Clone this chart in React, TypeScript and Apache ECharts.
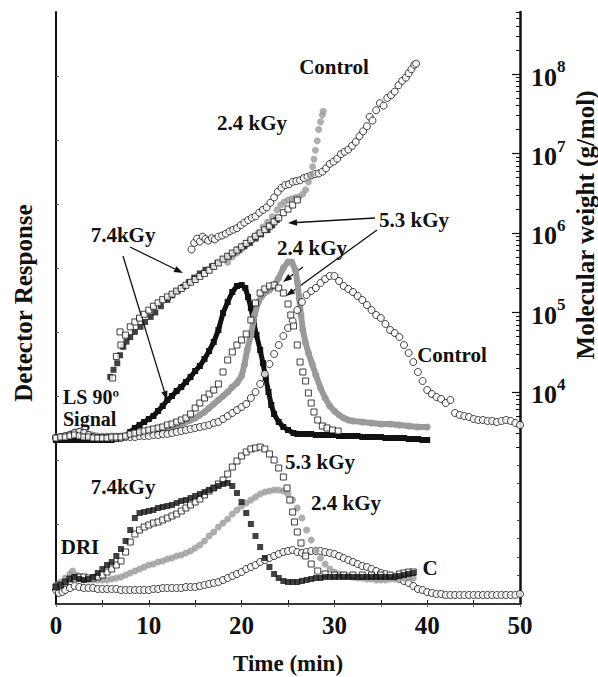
import React, { useEffect, useRef } from 'react';
import * as echarts from 'echarts';

// ---------- data (time in min, detector response in a.u., molecular weight in g/mol) ----------
const lsControl: number[][] = [
  [0,166],[0.5,167],[1,168],[1.5,169],[2,171],[2.5,172],[3,171],[3.5,169],[4,167],[4.5,166],[5,166],[5.5,166],[6,166],[6.5,166],[7,166],[7.5,167],[8,167],[8.5,167],[9,168],[9.5,168],[10,168],[10.5,169],[11,169],[11.5,170],[12,170],[12.5,171],[13,172],[13.5,173],[14,174],[14.5,175],[15,176],[15.5,177],[16,178],[16.5,179],[17,181],[17.5,182],[18,185],[18.5,188],[19,191],[19.5,194],[20,197],[20.5,200],[21,206],[21.5,212],[22,220],[22.5,230],[23,240],[23.5,250],[24,259],[24.5,268],[25,276],[25.5,283],[26,294],[26.5,302],[27,309],[27.5,313],[28,316],[28.5,321],[29,325],[29.5,328],[30,328],[30.5,323],[31,318],[31.5,315],[32,312],[32.5,308],[33,304],[33.5,299],[34,294],[34.5,289],[35,286],[35.5,280],[36,274],[36.5,271],[37,267],[37.5,259],[38,251],[38.5,242],[39,232],[39.5,223],[40,214],[40.5,210],[41,207],[41.5,205],[42,201],[42.5,204],[43,191],[43.5,189],[44,188],[44.5,187],[45,185],[45.5,184],[46,184],[46.5,183],[47,183],[47.5,182],[48,183],[48.5,184],[49,183],[49.5,181],[50,179]
];
const ls53: number[][] = [
  [0,166],[0.5,167],[1,167],[1.5,168],[2,169],[2.5,168],[3,167],[3.5,167],[4,166],[4.5,166],[5,166],[5.5,166],[6,167],[6.5,167],[7,167],[7.5,168],[8,170],[8.5,171],[9,172],[9.5,173],[10,174],[10.5,175],[11,176],[11.5,177],[12,179],[12.5,180],[13,182],[13.5,184],[14,186],[14.5,190],[15,196],[15.5,201],[16,206],[16.5,210],[17,214],[17.5,220],[18,232],[18.5,244],[19,252],[19.5,259],[20,264],[20.5,270],[21,284],[21.5,301],[22,311],[22.5,315],[23,318],[23.5,319],[24,316],[24.5,311],[25,300],[25.3,289],[25.6,278],[26,259],[26.3,242],[26.6,232],[26.9,223],[27.2,211],[27.5,201],[27.8,192],[28.2,184],[28.7,178],[29.2,176],[29.8,174],[30.4,173]
];
const ls74: number[][] = [
  [0,164],[0.5,164],[1,164],[1.5,164],[2,164],[2.5,164],[3,164],[3.5,164],[4,164],[4.5,164],[5,164],[5.5,164],[6,164],[6.5,165],[7,166],[7.5,168],[8,172],[8.5,176],[9,179],[9.5,182],[10,185],[10.5,188],[11,193],[11.5,198],[12,204],[12.5,208],[13,213],[13.5,217],[14,222],[14.5,227],[15,233],[15.5,238],[16,245],[16.5,253],[17,262],[17.5,274],[18,291],[18.5,302],[19,312],[19.5,318],[20,319],[20.4,316],[20.7,307],[21,296],[21.3,282],[21.6,269],[22,254],[22.3,241],[22.6,226],[22.9,212],[23.2,199],[23.5,190],[24,182],[24.5,177],[25,174],[25.6,171],[26,170],[26.5,170],[27,170],[27.5,170],[28,169],[28.5,169],[29,169],[29.5,169],[30,169],[30.5,168],[31,168],[31.5,168],[32,168],[32.5,168],[33,167],[33.5,167],[34,167],[34.5,167],[35,167],[35.5,166],[36,166],[36.5,166],[37,166],[37.5,166],[38,165],[38.5,165],[39,165],[39.5,164],[40,164]
];
const ls24: number[][] = [
  [0,167],[0.5,167],[1,168],[1.5,170],[2,172],[2.5,173],[3,172],[3.5,170],[4,169],[4.5,168],[5,168],[5.5,168],[6,168],[6.5,168],[7,168],[7.5,168],[8,169],[8.5,169],[9,170],[9.5,170],[10,171],[10.5,172],[11,173],[11.5,174],[12,175],[12.5,176],[13,178],[13.5,180],[14,182],[14.5,184],[15,186],[15.5,189],[16,192],[16.5,196],[17,200],[17.5,204],[18,208],[18.5,212],[19,217],[19.5,221],[20,228],[20.3,239],[20.6,254],[21,269],[21.4,289],[21.8,302],[22.2,308],[22.6,312],[23,314],[23.5,318],[24,326],[24.5,336],[25,342],[25.4,342],[25.8,334],[26,322],[26.2,306],[26.4,289],[26.6,274],[26.9,261],[27.2,251],[27.6,240],[28,229],[28.5,216],[29,206],[29.5,198],[30,193],[30.5,189],[31,186],[31.5,184],[32,183],[33,182],[34,181],[35,180],[36,180],[37,179],[38,178],[39,177],[40,177]
];

const driControl: number[][] = [
  [0,14],[0.3,11],[0.7,12],[1,14],[1.5,16],[2,18],[2.5,17],[3,16],[3.5,16],[4,16],[4.5,15],[5,15],[5.5,15],[6,15],[6.5,15],[7,14],[7.5,14],[8,14],[8.5,14],[9,14],[9.5,14],[10,14],[10.5,15],[11,15],[11.5,16],[12,16],[12.5,16],[13,16],[13.5,16],[14,17],[14.5,17],[15,17],[15.5,18],[16,19],[16.5,20],[17,21],[17.5,22],[18,24],[18.5,26],[19,28],[19.5,30],[20,32],[20.5,35],[21,37],[21.5,39],[22,42],[22.5,44],[23,46],[23.5,48],[24,50],[24.5,52],[25,53],[25.5,54],[26,52],[26.5,51],[27,52],[27.5,53],[28,53],[28.5,53],[29,52],[29.5,51],[30,50],[30.5,48],[31,46],[31.5,44],[32,42],[32.5,40],[33,38],[33.5,37],[34,35],[34.5,33],[35,31],[35.5,30],[36,28],[36.5,27],[37,25],[37.5,23],[38,21],[38.5,18],[39,15],[39.5,14],[40,12],[40.5,11],[41,10],[41.5,10],[42,9],[42.5,9],[43,9],[43.5,9],[44,9],[44.5,9],[45,9],[45.5,9],[46,9],[46.5,9],[47,9],[47.5,9],[48,9],[48.5,9],[49,9],[49.5,9],[50,10]
];
const dri53: number[][] = [
  [0,17],[0.5,19],[1,22],[1.5,25],[2,26],[2.5,27],[3,27],[3.5,26],[4,26],[4.5,27],[5,29],[5.5,32],[6,35],[6.5,39],[7,43],[7.5,52],[8,62],[8.5,70],[9,74],[9.5,77],[10,79],[10.5,81],[11,82],[11.5,84],[12,86],[12.5,88],[13,90],[13.5,93],[14,96],[14.5,99],[15,102],[15.5,105],[16,109],[16.5,113],[17,116],[17.5,120],[18,124],[18.5,130],[19,137],[19.5,143],[20,148],[20.5,152],[21,155],[21.5,156],[22,157],[22.5,155],[23,150],[23.5,144],[24,136],[24.5,127],[24.9,116],[25.2,104],[25.5,92],[25.7,82],[26,72],[26.4,61],[26.9,48],[27.5,40],[28.2,33],[29,30],[30,29],[31,29],[32,29],[33,29],[34,29],[35,29],[36,29],[37,30],[37.5,31],[38,32],[38.5,32]
];
const dri74: number[][] = [
  [0,17],[0.5,19],[1,22],[1.5,25],[2,27],[2.5,25],[3,24],[3.5,25],[4,27],[4.5,31],[5,35],[5.5,39],[6,42],[6.5,48],[7,55],[7.5,63],[8,74],[8.5,86],[9,91],[9.5,92],[10,93],[10.5,94],[11,96],[11.5,97],[12,98],[12.5,99],[13,101],[13.5,103],[14,104],[14.5,106],[15,108],[15.5,110],[16,112],[16.5,114],[17,116],[17.5,118],[18,120],[18.5,121],[19,118],[19.5,111],[20,102],[20.5,91],[21,80],[21.5,68],[22,57],[22.5,46],[23,37],[23.5,30],[24,26],[24.5,23],[25,22],[25.5,22],[26,22],[26.5,23],[27,24],[27.5,25],[28,26],[28.5,26],[29,27],[29.5,27],[30,27],[30.5,27],[31,27],[31.5,27],[32,27],[32.5,27],[33,27],[33.5,27],[34,27],[34.5,27],[35,27],[35.5,27],[36,27],[36.5,27],[37,28],[37.5,29],[38,30],[38.5,31]
];
const dri24: number[][] = [
  [0,19],[0.5,22],[1,26],[1.5,30],[1.8,33],[2.2,29],[2.5,26],[3,24],[3.5,24],[4,24],[4.5,24],[5,24],[5.5,24],[6,25],[6.5,26],[7,27],[7.5,29],[8,31],[8.5,33],[9,35],[9.5,37],[10,39],[10.5,40],[11,42],[11.5,43],[12,45],[12.5,46],[13,48],[13.5,49],[14,51],[14.5,53],[15,56],[15.5,59],[16,63],[16.5,68],[17,72],[17.5,77],[18,81],[18.5,85],[19,90],[19.5,94],[20,98],[20.5,101],[21,104],[21.5,107],[22,110],[22.5,112],[23,113],[23.5,114],[24,114],[24.5,113],[25,110],[25.5,104],[26,96],[26.5,86],[27,74],[27.5,64],[28,54],[28.5,46],[29,40],[29.5,35],[30,32],[30.5,30],[31,29],[31.5,28],[32,27],[32.5,26],[33,26],[33.5,25],[34,25],[34.5,24],[35,24],[35.5,24],[36,25],[36.5,25],[37,26],[37.5,26],[38,26],[38.5,26]
];

const mwControl: number[][] = [
  [14.6,6.2e5],[14.9,7.5e5],[15.2,8.5e5],[15.5,7.8e5],[15.8,9.0e5],[16.1,8.4e5],[16.4,8.0e5],[16.8,8.6e5],[17.1,8.3e5],[17.5,9.0e5],[17.9,9.3e5],[18.3,9.8e5],[18.7,1.05e6],[19.1,1.1e6],[19.5,1.15e6],[19.9,1.25e6],[20.3,1.35e6],[20.7,1.45e6],[21.1,1.55e6],[21.5,1.62e6],[21.9,1.8e6],[22.3,1.95e6],[22.7,2.1e6],[23.1,2.4e6],[23.5,2.8e6],[23.9,3.3e6],[24.3,3.7e6],[24.7,4.0e6],[25.1,4.1e6],[25.5,4.4e6],[25.9,4.5e6],[26.3,4.6e6],[26.7,4.9e6],[27.1,5.1e6],[27.5,5.3e6],[27.9,5.5e6],[28.3,5.6e6],[28.7,5.9e6],[29.1,6.5e6],[29.5,7.4e6],[29.9,7.9e6],[30.3,8.6e6],[30.7,9.8e6],[31.1,1.05e7],[31.5,1.12e7],[31.9,1.25e7],[32.3,1.4e7],[32.7,1.65e7],[33.1,1.9e7],[33.5,2.2e7],[33.8,2.9e7],[34.1,2.6e7],[34.5,3.5e7],[34.9,4.3e7],[35.3,4.0e7],[35.7,5.0e7],[36.1,5.4e7],[36.5,6.0e7],[36.9,7.2e7],[37.3,8.2e7],[37.7,9.0e7],[38.0,1.02e8],[38.3,1.15e8],[38.6,1.3e8],[38.8,1.35e8]
];
const mw53: number[][] = [
  [6.1,1.5e4],[6.5,2.8e4],[6.9,5.7e4],[7.0,3.9e4],[7.5,5.2e4],[8,6.6e4],[8.5,7.6e4],[9,8.5e4],[9.5,9.5e4],[10,1.07e5],[10.5,1.2e5],[11,1.32e5],[11.5,1.45e5],[12,1.57e5],[12.5,1.7e5],[13,1.86e5],[13.5,2.0e5],[14,2.2e5],[14.5,2.4e5],[15,2.6e5],[15.5,2.85e5],[16,3.1e5],[16.5,3.4e5],[17,3.8e5],[17.5,4.2e5],[18,4.7e5],[18.5,5.1e5],[19,5.6e5],[19.5,6.1e5],[20,6.7e5],[20.5,7.4e5],[21,8.2e5],[21.5,9.1e5],[22,1.0e6],[22.5,1.1e6],[23,1.22e6],[23.5,1.38e6],[24,1.55e6],[24.5,1.8e6],[25,2.0e6],[25.5,2.25e6],[26,2.6e6]
];
const mw74: number[][] = [
  [5.85,1.55e4],[6.2,1.9e4],[6.6,2.3e4],[6.9,2.9e4],[7.25,3.7e4],[7.6,4.3e4],[8.0,4.9e4],[8.5,5.7e4],[9.1,6.6e4],[9.6,7.6e4],[10.2,8.8e4],[10.7,1.0e5],[11.3,1.2e5],[12.0,1.44e5],[12.5,1.64e5],[13.1,1.86e5],[13.7,2.1e5],[14.3,2.4e5],[14.9,2.75e5],[15.5,3.1e5],[16.1,3.45e5],[16.8,3.8e5],[17.4,4.2e5],[18.0,4.7e5],[18.6,5.1e5],[19.1,5.6e5],[19.7,6.2e5],[20.3,6.8e5],[20.9,7.5e5],[21.5,8.5e5],[22.1,9.6e5],[22.8,1.09e6],[23.3,1.25e6],[23.8,1.46e6]
];
const mw24: number[][] = [
  [18.5,4.3e5],[19.0,5.0e5],[19.5,5.6e5],[19.9,6.1e5],[20.4,7.0e5],[20.9,8.0e5],[21.3,8.9e5],[21.8,1.0e6],[22.3,1.2e6],[22.8,1.37e6],[23.3,1.6e6],[23.8,1.95e6],[24.2,2.25e6],[24.6,2.45e6],[25.0,2.6e6],[25.4,2.7e6],[25.8,2.8e6],[26.2,2.85e6],[26.6,3.1e6],[26.9,3.5e6],[27.2,4.4e6],[27.45,5.4e6],[27.65,6.8e6],[27.8,8.5e6],[27.95,1.1e7],[28.15,1.45e7],[28.3,2.0e7],[28.5,2.5e7],[28.7,3.05e7],[28.8,3.4e7]
];

// axis ticks / labels
const timeLabels = [0, 10, 20, 30, 40, 50];
const responseTicks = [16, 80, 144, 208, 272, 336, 400, 464, 528];
const mwExponents = [4, 5, 6, 7, 8];
const mwMinorDecades = [3, 4, 5, 6, 7, 8];
const mwMinorMultipliers = [2, 3, 4, 5, 6, 7, 8, 9];
const driRightTicks = [11, 29, 47, 66, 84, 102, 121, 139];

const LOG_MIN = 1.333;
const LOG_MAX = 8.78;
const RESP_MAX = 592;

const GRAY = '#9a9a9a';
const INK = '#111';
const FONT = '"Liberation Serif", "Times New Roman", serif';

function arrow(x1: number, y1: number, x2: number, y2: number) {
  const a = Math.atan2(y2 - y1, x2 - x1);
  const L = 9, W = 3.2;
  const bx = x2 - L * Math.cos(a), by = y2 - L * Math.sin(a);
  const px = -Math.sin(a) * W, py = Math.cos(a) * W;
  return [
    { type: 'line', shape: { x1, y1, x2: bx, y2: by }, style: { stroke: INK, lineWidth: 1.3 }, silent: true },
    { type: 'polygon', shape: { points: [[x2, y2], [bx + px, by + py], [bx - px, by - py]] }, style: { fill: INK }, silent: true },
  ];
}

function label(text: string, x: number, y: number, size = 21, align = 'center') {
  return {
    type: 'text', x, y, silent: true,
    style: { text, fontSize: size, fontWeight: 'bold', fontFamily: FONT, fill: INK, align, verticalAlign: 'middle' },
  };
}

const openCircle = { color: '#fff', borderColor: INK, borderWidth: 1 };
const openSquare = { color: '#fff', borderColor: INK, borderWidth: 1 };

export default function App() {
  const ref = useRef<HTMLDivElement>(null);
  useEffect(() => {
    if (!ref.current) return;
    const chart = echarts.init(ref.current, undefined, { renderer: 'svg' });
    const minorTicks = mwMinorDecades
      .flatMap((d) => mwMinorMultipliers.map((m) => d + Math.log10(m)))
      .filter((v) => v <= LOG_MAX);

    const option: any = {
      animation: false,
      backgroundColor: '#fff',
      grid: { left: 56, right: 78, top: 12, bottom: 73, containLabel: false, outerBoundsMode: 'none' },
      xAxis: [
        {
          type: 'value', min: 0, max: 50, interval: 5, position: 'bottom',
          axisLine: { show: true, lineStyle: { color: INK, width: 2 } },
          axisTick: { show: true, inside: true, length: 4, lineStyle: { color: INK, width: 1 } },
          axisLabel: {
            formatter: (v: number) => (timeLabels.includes(v) ? String(v) : ''),
            fontSize: 25, fontWeight: 'bold', fontFamily: FONT, color: INK, margin: 9,
          },
          splitLine: { show: false },
        },
        {
          type: 'value', min: 0, max: 50, interval: 5, position: 'top',
          axisLine: { show: true, lineStyle: { color: '#444', width: 1.5 } },
          axisTick: { show: true, inside: true, length: 3, lineStyle: { color: '#666', width: 1 } },
          axisLabel: { show: false },
          splitLine: { show: false },
        },
      ],
      yAxis: [
        {
          type: 'value', min: 0, max: RESP_MAX, position: 'left',
          axisLine: { show: true, lineStyle: { color: INK, width: 2 } },
          axisTick: { show: true, inside: true, length: 3, customValues: responseTicks, lineStyle: { color: '#555', width: 1 } },
          axisLabel: { show: false },
          splitLine: { show: false },
        },
        {
          type: 'log', min: Math.pow(10, LOG_MIN), max: Math.pow(10, LOG_MAX), position: 'right', show: false,
        },
        {
          type: 'value', min: LOG_MIN, max: LOG_MAX, position: 'right',
          axisLine: { show: true, lineStyle: { color: INK, width: 2.5 } },
          axisTick: { show: true, inside: true, length: 8, customValues: mwExponents, lineStyle: { color: INK, width: 1.2 } },
          axisLabel: {
            customValues: mwExponents, margin: 11,
            formatter: (v: number) => `{b|10}{s|${Math.round(v)}}`,
            rich: {
              b: { fontSize: 26, fontWeight: 'bold', fontFamily: FONT, color: INK, lineHeight: 32, verticalAlign: 'bottom' },
              s: { fontSize: 17, fontWeight: 'bold', fontFamily: FONT, color: INK, verticalAlign: 'top' },
            },
          },
          splitLine: { show: false },
        },
        {
          type: 'value', min: LOG_MIN, max: LOG_MAX, position: 'right',
          axisLine: { show: false },
          axisTick: { show: true, inside: true, length: 4, customValues: minorTicks, lineStyle: { color: INK, width: 1 } },
          axisLabel: { show: false },
          splitLine: { show: false },
        },
        {
          type: 'value', min: 0, max: RESP_MAX, position: 'right',
          axisLine: { show: false },
          axisTick: { show: true, inside: true, length: 3, customValues: driRightTicks, lineStyle: { color: '#444', width: 1 } },
          axisLabel: { show: false },
          splitLine: { show: false },
        },
      ],
      series: [
        // LS 90° signal
        { type: 'line', data: ls74, yAxisIndex: 0, symbol: 'rect', symbolSize: 6, showSymbol: true,
          lineStyle: { color: INK, width: 5 }, itemStyle: { color: INK }, z: 2 },
        { type: 'line', data: ls24, yAxisIndex: 0, symbol: 'circle', symbolSize: 7, showSymbol: true,
          lineStyle: { color: GRAY, width: 6 }, itemStyle: { color: GRAY }, z: 3 },
        { type: 'scatter', data: lsControl, yAxisIndex: 0, symbol: 'circle', symbolSize: 7, itemStyle: openCircle, z: 4 },
        { type: 'scatter', data: ls53, yAxisIndex: 0, symbol: 'rect', symbolSize: 6, itemStyle: openSquare, z: 5 },
        // DRI
        { type: 'scatter', data: driControl, yAxisIndex: 0, symbol: 'circle', symbolSize: 7, itemStyle: openCircle, z: 2 },
        { type: 'scatter', data: dri24, yAxisIndex: 0, symbol: 'circle', symbolSize: 7, itemStyle: { color: GRAY }, z: 3 },
        { type: 'scatter', data: dri53, yAxisIndex: 0, symbol: 'rect', symbolSize: 6, itemStyle: openSquare, z: 4 },
        { type: 'scatter', data: dri74, yAxisIndex: 0, symbol: 'rect', symbolSize: 6, itemStyle: { color: INK }, z: 5 },
        // Molecular weight
        { type: 'scatter', data: mwControl, yAxisIndex: 1, symbol: 'circle', symbolSize: 7, itemStyle: openCircle, z: 2 },
        { type: 'scatter', data: mw24, yAxisIndex: 1, symbol: 'circle', symbolSize: 7, itemStyle: { color: GRAY }, z: 3 },
        { type: 'scatter', data: mw74, yAxisIndex: 1, symbol: 'rect', symbolSize: 6, itemStyle: { color: INK }, z: 4 },
        { type: 'scatter', data: mw53, yAxisIndex: 1, symbol: 'rect', symbolSize: 6, itemStyle: openSquare, z: 5 },
      ],
      graphic: [
        label('Control', 334, 67),
        label('2.4 kGy', 252, 123),
        label('7.4kGy', 123, 235),
        label('5.3 kGy', 414, 220),
        label('2.4 kGy', 312, 248),
        label('LS 90º', 63, 397, 20, 'left'),
        label('Signal', 63, 419, 20, 'left'),
        label('Control', 452, 355),
        label('7.4kGy', 123, 487),
        label('5.3 kGy', 320, 462),
        label('2.4 kGy', 346, 503),
        label('DRI', 80, 547),
        label('C', 430, 568),
        ...arrow(130, 247, 183, 273),
        ...arrow(123, 256, 167, 400),
        ...arrow(375, 218, 288, 223),
        ...arrow(377, 230, 286, 296),
        ...arrow(303, 267, 283, 282),
        {
          type: 'text', x: 288, y: 663, silent: true,
          style: { text: 'Time (min)', fontSize: 23, fontWeight: 'bold', fontFamily: FONT, fill: INK, align: 'center', verticalAlign: 'middle' },
        },
        {
          type: 'text', x: 23, y: 303, rotation: Math.PI / 2, silent: true,
          style: { text: 'Detector Response', fontSize: 25, fontWeight: 'bold', fontFamily: FONT, fill: INK, align: 'center', verticalAlign: 'middle' },
        },
        {
          type: 'text', x: 585, y: 225, rotation: Math.PI / 2, silent: true,
          style: { text: 'Molecular weight (g/mol)', fontSize: 25, fontWeight: 'bold', fontFamily: FONT, fill: INK, align: 'center', verticalAlign: 'middle' },
        },
      ],
    };
    chart.setOption(option);
    return () => chart.dispose();
  }, []);
  return <div ref={ref} style={{ position: 'fixed', left: 0, top: 0, width: 598, height: 677, background: '#fff' }} />;
}
